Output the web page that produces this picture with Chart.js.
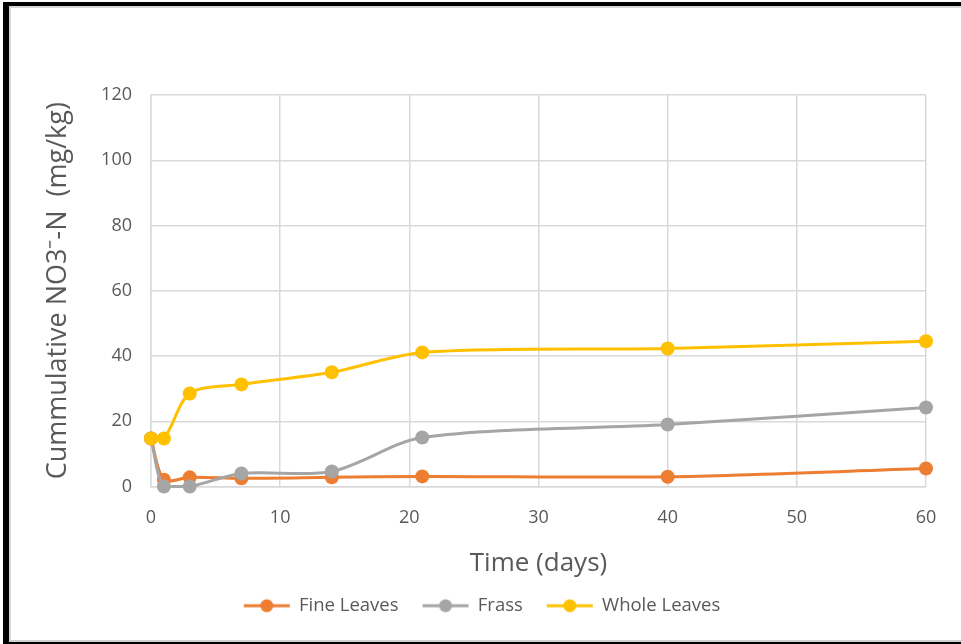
<!DOCTYPE html>
<html>
<head>
<meta charset="utf-8">
<script src="https://cdn.jsdelivr.net/npm/chart.js@4/dist/chart.umd.min.js"></script>
<style>
  html, body { margin: 0; padding: 0; background: #ffffff; }
  #wrap { position: relative; width: 961px; height: 644px; overflow: hidden; background: #fff; }
  #frame {
    position: absolute; left: 3px; top: 2px; width: 980px; height: 636px;
    border-left: 6px solid #000; border-top: 4px solid #000; border-bottom: 4px solid #000;
    box-sizing: content-box;
  }
  #frame::after {
    content: ""; position: absolute; left: 0; top: 0; right: 0; bottom: 0;
    border-left: 2px solid #d6d6d6; border-top: 2px solid #d6d6d6; border-bottom: 2px solid #cfcfcf;
  }
  canvas { position: absolute; left: 0; top: 0; }
</style>
</head>
<body>
<div id="wrap">
  <div id="frame"></div>
  <canvas id="chart" width="961" height="644"></canvas>
</div>
<script>
// Sampling days
const days = [0, 1, 3, 7, 14, 21, 40, 60];

// Cumulative NO3- -N (mg/kg) per treatment
const fineLeaves  = [14.7, 2.1, 2.8, 2.5, 2.8, 3.1, 3.0, 5.5];
const frass       = [14.7, 0.0, 0.0, 4.0, 4.6, 15.0, 19.0, 24.2];
const wholeLeaves = [14.7, 14.7, 28.5, 31.3, 35.0, 41.1, 42.3, 44.5];

const seriesNames  = ['Fine Leaves', 'Frass', 'Whole Leaves'];
const seriesValues = [fineLeaves, frass, wholeLeaves];
const seriesColors = ['#ED7D31', '#A5A5A5', '#FFC000'];

const yTicks = [0, 20, 40, 60, 80, 100, 120];
const xTicks = [0, 10, 20, 30, 40, 50, 60];

// Legend marker: short line with a dot in the middle
function legendMarker(color) {
  const c = document.createElement('canvas');
  c.width = 54; c.height = 16;
  const g = c.getContext('2d');
  g.strokeStyle = color; g.lineWidth = 3;
  g.beginPath(); g.moveTo(4, 8); g.lineTo(50, 8); g.stroke();
  g.fillStyle = color;
  g.beginPath(); g.arc(27, 8, 6.5, 0, Math.PI * 2); g.fill();
  return c;
}

const datasets = seriesNames.map((name, i) => ({
  label: name,
  data: days.map((d, k) => ({ x: d, y: seriesValues[i][k] })),
  borderColor: seriesColors[i],
  backgroundColor: seriesColors[i],
  borderWidth: 3,
  pointRadius: 7,
  pointHoverRadius: 7,
  pointBorderWidth: 0,
  tension: 0.3,
  clip: false,
  order: seriesNames.length - i,
  legendImage: legendMarker(seriesColors[i])
}));

const fontFamily = "'Open Sans', 'Liberation Sans', sans-serif";

new Chart(document.getElementById('chart'), {
  type: 'line',
  data: { datasets },
  options: {
    responsive: false,
    animation: false,
    events: [],
    layout: { padding: { left: 38, right: 35, top: 95, bottom: 19 } },
    plugins: {
      tooltip: { enabled: false },
      legend: {
        position: 'bottom',
        labels: {
          usePointStyle: true,
          pointStyleWidth: 46,
          boxHeight: 16,
          padding: 24,
          color: '#595959',
          font: { family: fontFamily, size: 18.5 },
          sort: (a, b) => a.datasetIndex - b.datasetIndex,
          generateLabels: (chart) => chart.data.datasets.map((ds, i) => ({
            text: ds.label,
            fillStyle: ds.borderColor,
            strokeStyle: ds.borderColor,
            lineWidth: 0,
            pointStyle: ds.legendImage,
            fontColor: '#595959',
            hidden: false,
            datasetIndex: i
          }))
        }
      }
    },
    scales: {
      x: {
        type: 'linear',
        min: 0, max: 60,
        afterBuildTicks: (s) => { s.ticks = xTicks.map(v => ({ value: v })); },
        afterFit: (s) => { s.height = 86; },
        grid: { color: '#d9d9d9', lineWidth: 1.5, drawTicks: false },
        border: { color: '#d9d9d9', width: 1.5 },
        ticks: { color: '#595959', padding: 21, font: { family: fontFamily, size: 18 } },
        title: {
          display: true, text: 'Time (days)', color: '#595959',
          font: { family: fontFamily, size: 26 }, padding: { top: 0, bottom: -7 }
        }
      },
      y: {
        min: 0, max: 120,
        afterBuildTicks: (s) => { s.ticks = yTicks.map(v => ({ value: v })); },
        afterFit: (s) => { s.width = 113; },
        grid: { color: '#d9d9d9', lineWidth: 1.5, drawTicks: false },
        border: { color: '#d9d9d9', width: 1.5 },
        ticks: { color: '#595959', padding: 19, font: { family: fontFamily, size: 18 } },
        title: {
          display: true, text: 'Cummulative NO3\u207B-N  (mg/kg)', color: '#595959',
          font: { family: fontFamily, size: 27 }, padding: { top: 4, bottom: 0 }
        }
      }
    }
  }
});
</script>
</body>
</html>
